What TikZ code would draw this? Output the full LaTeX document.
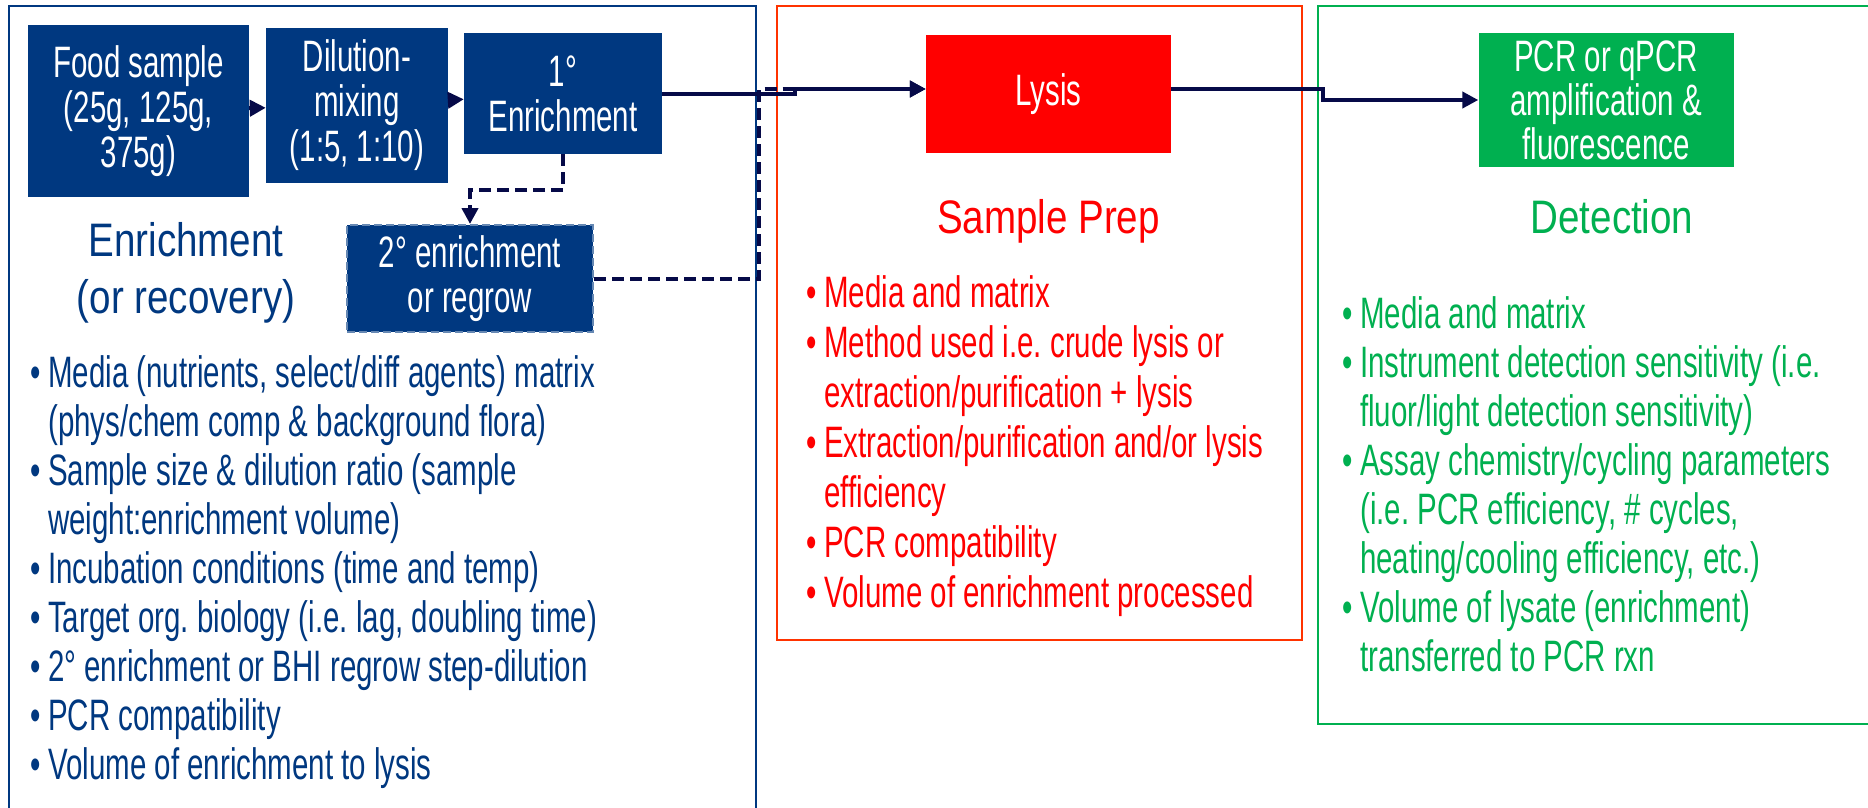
\documentclass[tikz,border=0pt]{standalone}
\usepackage{fontspec}
\setmainfont{Liberation Sans}[FakeStretch=0.67]
\newfontfamily\titlefont{Liberation Sans}[FakeStretch=0.82]
\usepackage{tikz}
\usetikzlibrary{arrows.meta,positioning}

\definecolor{navy}{RGB}{0,56,128}
\definecolor{ink}{RGB}{6,10,72}
\definecolor{lysred}{RGB}{255,0,0}
\definecolor{prepred}{RGB}{255,51,0}
\definecolor{detgreen}{RGB}{0,176,80}

\newcommand{\bul}{\makebox[18pt][l]{\textbullet}}
\newcommand{\hng}{\hspace*{18pt}}
\frenchspacing

\begin{document}
\begin{tikzpicture}[
    x=1pt, y=-1pt,
    box/.style={rectangle, inner sep=0pt, align=center, text=white, font=\fontsize{44}{45}\selectfont},
    arrow/.style={-{Triangle[length=16pt,width=16pt]}, line width=4pt, draw=ink},
    dasharrow/.style={arrow, dash pattern=on 12pt off 6pt},
    panel/.style={line width=2.5pt},
    title/.style={align=center, inner sep=0pt, font=\titlefont\fontsize{47}{57}\selectfont},
    list/.style={align=left, inner sep=0pt, anchor=north west, font=\fontsize{44}{49}\selectfont}
]
\useasboundingbox (0,0) rectangle (1868,807);
\fill[white] (0,0) rectangle (1868,807);
\clip (0,0) rectangle (1868,807);

% Panels
\draw[panel, navy] (9,6) rectangle (756,840);
\draw[panel, prepred] (777,6) rectangle (1302,640);
\draw[panel, detgreen] (1318,6) rectangle (1890,724);

% Enrichment steps
\node[box, fill=navy, minimum width=221pt, minimum height=172pt] (food) at (138.5,111) {Food sample\\(25g, 125g,\\375g)};
\node[box, fill=navy, minimum width=182pt, minimum height=155pt] (dil) at (357,105.5) {Dilution-\\mixing\\(1:5, 1:10)};
\node[box, fill=navy, minimum width=198pt, minimum height=121pt] (enr) at (563,93.5) {1°\\Enrichment};
\node[box, fill=navy, draw=navy!60, line width=2pt, dash pattern=on 8pt off 4pt,
      minimum width=246pt, minimum height=107pt] (sec) at (470,278.5) {2° enrichment\\or regrow};

% Lysis and detection
\node[box, fill=lysred, minimum width=245pt, minimum height=118pt] (lys) at (1048.5,94) {Lysis};
\node[box, fill=detgreen, minimum width=255pt, minimum height=134pt, font=\fontsize{44}{44}\selectfont] (det) at (1606,100) {PCR or qPCR\\amplification \&\\fluorescence};

% Titles
\node[title, text=navy, anchor=north] (etitle) at (186,222) {Enrichment\\(or recovery)};
\node[title, text=lysred, below=46pt of lys] (ptitle) {Sample Prep};
\node[title, text=detgreen, below=32pt of det, xshift=6pt] (dtitle) {Detection};

% Bullet lists
\node[list, text=navy] (elist) at (30,355) {\bul Media (nutrients, select/diff agents) matrix\\
\hng (phys/chem comp \& background flora)\\
\bul Sample size \& dilution ratio (sample\\
\hng weight:enrichment volume)\\
\bul Incubation conditions (time and temp)\\
\bul Target org. biology (i.e. lag, doubling time)\\
\bul 2° enrichment or BHI regrow step-dilution\\
\bul PCR compatibility\\
\bul Volume of enrichment to lysis};

\node[list, text=lysred, font=\fontsize{44}{50}\selectfont] (plist) at (806,275) {\bul Media and matrix\\
\bul Method used i.e. crude lysis or\\
\hng extraction/purification + lysis\\
\bul Extraction/purification and/or lysis\\
\hng efficiency\\
\bul PCR compatibility\\
\bul Volume of enrichment processed};

\node[list, text=detgreen] (dlist) at (1342,296) {\bul Media and matrix\\
\bul Instrument detection sensitivity (i.e.\\
\hng fluor/light detection sensitivity)\\
\bul Assay chemistry/cycling parameters\\
\hng (i.e. PCR efficiency, \# cycles,\\
\hng heating/cooling efficiency, etc.)\\
\bul Volume of lysate (enrichment)\\
\hng transferred to PCR rxn};

% Bends
\coordinate (k1) at (795,93.5);
\coordinate (k2) at (759,278.5);
\coordinate (k3) at (1323,89);

% Arrows
\draw[arrow] (food) -- (dil);
\draw[arrow] (dil) -- (enr);
\draw[dasharrow] (enr.south) -- ++(0,36) -| (sec.north);
\draw[arrow] (enr.east) -- (k1) |- ([yshift=5pt]lys.west);
\draw[dasharrow] (sec.east) -- (k2) |- ([yshift=5pt]lys.west);
\draw[arrow] ([yshift=5pt]lys.east) -- (k3) |- (det.west);

\end{tikzpicture}
\end{document}
